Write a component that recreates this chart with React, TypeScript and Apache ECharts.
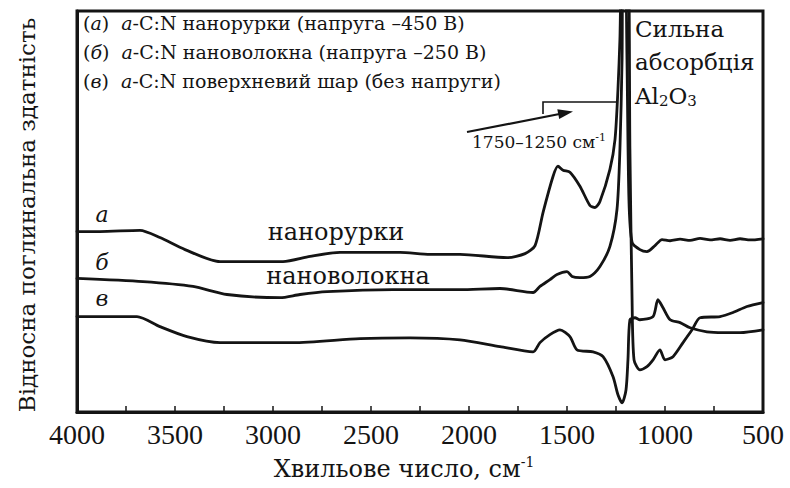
import React, { useEffect, useRef } from "react";
import * as echarts from "echarts";

// Curve (а) – nanotubes
const waveA = [4000, 3883, 3679, 3577, 3449, 3270, 2949, 2811, 2658, 2352, 2199, 2046, 1806, 1714, 1663, 1622, 1571, 1546, 1520, 1485, 1434, 1383, 1357, 1332, 1281, 1255, 1240, 1230, 1219, 1204, 1194, 1184, 1168, 1128, 1092, 1051, 1015, 974, 923, 872, 821, 770, 719, 668, 617, 566, 500];
const absA = [45, 45, 45.3, 43.5, 40.5, 37.5, 37.5, 38.8, 39.8, 39.8, 39.3, 39.3, 38.5, 39.5, 41.5, 49.8, 58.8, 61.3, 60.3, 59.8, 56.3, 51.5, 51, 52.5, 60.5, 68, 80.5, 93, 115, 115, 88, 53, 42.3, 40.5, 40, 41.5, 43, 42.7, 43.1, 42.8, 43.3, 42.9, 43.2, 42.8, 43.2, 42.9, 43.2];

// Curve (б) – nanofibres
const waveB = [4000, 3663, 3408, 3235, 2964, 2862, 2724, 2388, 2046, 1842, 1673, 1638, 1587, 1551, 1500, 1474, 1434, 1383, 1332, 1281, 1245, 1230, 1219, 1214, 1189, 1179, 1168, 1158, 1128, 1092, 1061, 1026, 1000, 959, 908, 862, 821, 719, 653, 582, 500];
const absB = [33.3, 32.5, 31.3, 29.3, 28.5, 29.3, 30, 30.5, 30.5, 30.8, 29.8, 31.3, 33, 34.3, 35, 33.8, 33.5, 33.8, 36.3, 41.3, 50.5, 65.5, 88, 115, 115, 65.5, 28, 13, 10.5, 11.3, 13, 15.5, 13, 13.8, 17.3, 20.5, 23.5, 23.8, 24.8, 26.3, 27.3];

// Curve (в) – surface layer
const waveC = [4000, 3694, 3577, 3439, 3270, 2898, 2556, 2301, 2046, 1842, 1673, 1638, 1587, 1536, 1485, 1449, 1367, 1316, 1265, 1240, 1219, 1199, 1189, 1179, 1153, 1128, 1061, 1036, 1010, 974, 923, 872, 786, 704, 617, 500];
const absC = [23.8, 23.8, 21.3, 18.8, 17.3, 17.3, 18.3, 18.5, 18, 16.3, 15, 17.3, 19.3, 20.5, 18.8, 15.5, 15, 13.8, 8.8, 4.3, 2.3, 5.5, 13, 23, 23.5, 23, 23.8, 28, 26, 23, 22.3, 21, 20, 19.8, 19.8, 20.5];

// Legend lines: [italic letter, sample description]
const legendKeys = ["а", "б", "в"];
const legendDescs = [
  "-C:N нанорурки (напруга –450 В)",
  "-C:N нановолокна (напруга –250 В)",
  "-C:N поверхневий шар (без напруги)",
];
const curveLetters = ["а", "б", "в"];
const xTitle = "Хвильове число, см";
const yTitle = "Відносна поглинальна здатність";

const SERIF = "Liberation Serif, serif";
const FAM = "DejaVu Serif";
const INK = "#141414";

type Part = { t: string; size: number; it?: boolean; dy?: number };

export default function App() {
  const ref = useRef<HTMLDivElement>(null);
  useEffect(() => {
    const chart = echarts.init(ref.current!, null, { renderer: "svg" });
    const ctx = document.createElement("canvas").getContext("2d")!;
    const measure = (p: Part) => {
      ctx.font = `${p.it ? "italic " : ""}${p.size}px "${FAM}"`;
      return ctx.measureText(p.t).width;
    };
    const run = (x: number, y: number, parts: Part[], center = false) => {
      const total = parts.reduce((s, p) => s + measure(p), 0);
      let cx = center ? x - total / 2 : x;
      const out: any[] = [];
      parts.forEach((p) => {
        out.push({
          type: "text",
          x: cx,
          y: y + (p.dy || 0),
          style: {
            text: p.t,
            fontFamily: FAM,
            fontSize: p.size,
            fontStyle: p.it ? "italic" : "normal",
            fill: INK,
            verticalAlign: "middle",
          },
        });
        cx += measure(p);
      });
      return out;
    };

    const zip = (w: number[], a: number[]) => w.map((x, i) => [x, a[i]]);
    const lineSeries = (name: string, data: number[][]) => ({
      name,
      type: "line",
      data,
      showSymbol: false,
      smooth: 0.25,
      clip: true,
      lineStyle: { color: INK, width: 2.8, join: "round", cap: "round" },
    });

    const legFs = 19;
    const legendYs = [23, 52, 81];
    const graphics: any[] = [];
    legendKeys.forEach((k, i) => {
      graphics.push(
        ...run(83, legendYs[i], [
          { t: "(", size: legFs },
          { t: k, size: legFs, it: true },
          { t: ")  ", size: legFs },
          { t: "а", size: legFs, it: true },
          { t: legendDescs[i], size: legFs },
        ])
      );
    });
    const letterYs = [214, 262, 298];
    curveLetters.forEach((c, k) => {
      graphics.push({
        type: "text",
        x: 102,
        y: letterYs[k],
        style: { text: c, fontFamily: FAM, fontStyle: "italic", fontSize: 22, fill: INK, align: "center", verticalAlign: "middle" },
      });
    });
    graphics.push(
      { type: "text", x: 336, y: 232, style: { text: "нанорурки", fontFamily: FAM, fontSize: 24, fill: INK, align: "center", verticalAlign: "middle" } },
      { type: "text", x: 348, y: 276, style: { text: "нановолокна", fontFamily: FAM, fontSize: 24, fill: INK, align: "center", verticalAlign: "middle" } },
      { type: "text", x: 635, y: 29, style: { text: "Сильна", fontFamily: FAM, fontSize: 23, fill: INK, verticalAlign: "middle" } },
      { type: "text", x: 635, y: 62, style: { text: "абсорбція", fontFamily: FAM, fontSize: 23, fill: INK, verticalAlign: "middle" } },
      ...run(635, 96, [
        { t: "Al", size: 23 },
        { t: "2", size: 15, dy: 5 },
        { t: "O", size: 23 },
        { t: "3", size: 15, dy: 5 },
      ]),
      ...run(472, 142, [
        { t: "1750–1250 см", size: 17 },
        { t: "-1", size: 11, dy: -5 },
      ]),
      ...run(404, 469, [
        { t: xTitle, size: 24 },
        { t: "-1", size: 14, dy: -7 },
      ], true),
      {
        type: "text",
        x: 27,
        y: 215,
        rotation: Math.PI / 2,
        style: { text: yTitle, fontFamily: FAM, fontSize: 23, fill: INK, align: "center", verticalAlign: "middle" },
      },
      { type: "polyline", shape: { points: [[543, 114], [543, 102], [616, 102]] }, style: { stroke: INK, lineWidth: 1.6, fill: null } },
      { type: "line", shape: { x1: 467, y1: 132, x2: 562, y2: 113.5 }, style: { stroke: INK, lineWidth: 2.2 } },
      { type: "polygon", shape: { points: [[573, 111.5], [559.2, 119.1], [557.3, 109.3]] }, style: { fill: INK } }
    );

    chart.setOption({
      animation: false,
      backgroundColor: "#fff",
      grid: { left: 77, right: 27, top: 11, bottom: 76, show: true, borderColor: INK, borderWidth: 3, backgroundColor: "transparent" },
      xAxis: {
        type: "value",
        min: 500,
        max: 4000,
        interval: 500,
        inverse: true,
        axisLine: { show: true, lineStyle: { color: INK, width: 3 } },
        axisTick: { show: true, inside: true, length: 6, lineStyle: { color: INK, width: 1.5 } },
        minorTick: { show: true, splitNumber: 2, length: 6, lineStyle: { color: INK, width: 1.5 } },
        axisLabel: { fontFamily: SERIF, fontSize: 28, color: INK, margin: 8, formatter: (v: number) => String(v) },
        splitLine: { show: false },
      },
      yAxis: {
        type: "value",
        min: 0,
        max: 100,
        axisLine: { show: true, lineStyle: { color: INK, width: 3 } },
        axisTick: { show: false },
        axisLabel: { show: false },
        splitLine: { show: false },
      },
      series: [
        lineSeries("а", zip(waveA, absA)),
        lineSeries("б", zip(waveB, absB)),
        lineSeries("в", zip(waveC, absC)),
      ],
      graphic: graphics,
    });
    return () => chart.dispose();
  }, []);
  return (
    <div
      ref={ref}
      style={{ position: "fixed", left: 0, top: 0, width: 790, height: 488, background: "#fff" }}
    />
  );
}
